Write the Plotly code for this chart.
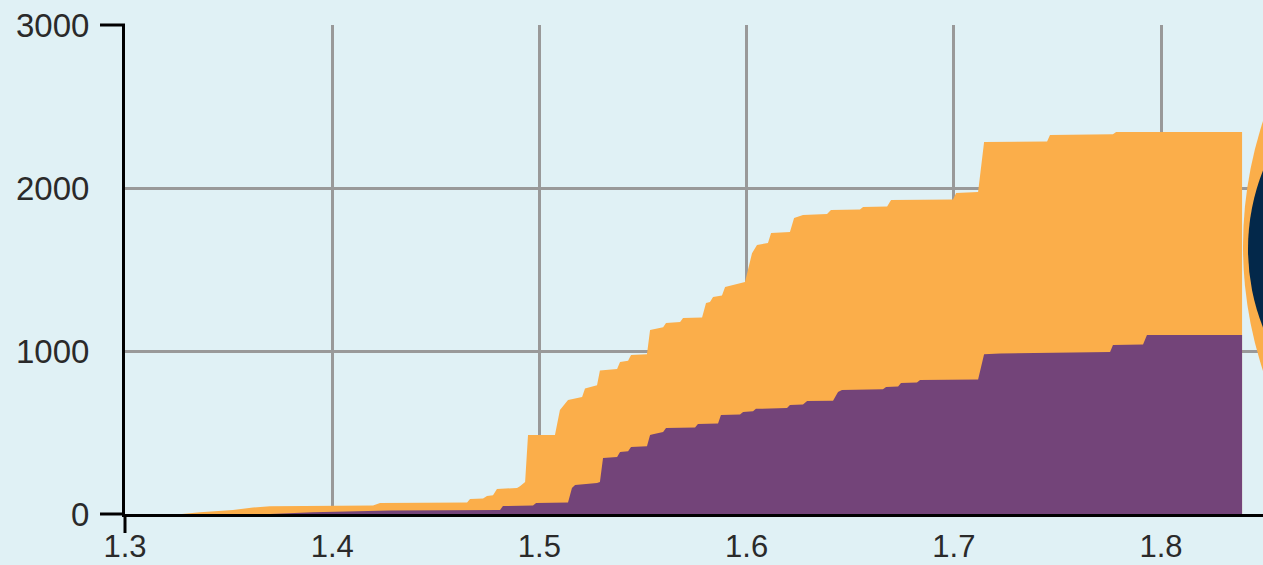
import plotly.graph_objects as go

# ---- data ----
total_x = [1.3275, 1.3362, 1.3521, 1.3618, 1.3700, 1.4197, 1.4231, 1.4651, 1.4665, 1.4728,
           1.4747, 1.4776, 1.4795, 1.4892, 1.4906, 1.4931, 1.4945, 1.5075, 1.5099, 1.5138,
           1.5206, 1.5220, 1.5278, 1.5292, 1.5375, 1.5389, 1.5428, 1.5442, 1.5519, 1.5534,
           1.5597, 1.5611, 1.5679, 1.5693, 1.5785, 1.5804, 1.5823, 1.5838, 1.5881, 1.5896,
           1.5992, 1.6007, 1.6026, 1.6050, 1.6103, 1.6118, 1.6209, 1.6229, 1.6272, 1.6388,
           1.6407, 1.6547, 1.6562, 1.6678, 1.6697, 1.6996, 1.7011, 1.7117, 1.7146, 1.7450,
           1.7464, 1.7768, 1.7783, 1.8391]
total_y = [0, 10, 25, 40, 48, 52, 67, 70, 92, 95,
           110, 115, 153, 160, 170, 196, 485, 485, 638, 699,
           718, 770, 790, 880, 890, 933, 940, 975, 980, 1129,
           1145, 1172, 1178, 1202, 1205, 1294, 1300, 1331, 1340, 1393,
           1423, 1500, 1600, 1650, 1663, 1724, 1730, 1816, 1834, 1840,
           1865, 1868, 1883, 1886, 1926, 1930, 1969, 1975, 2282, 2285,
           2325, 2330, 2344, 2344]

subset_x = [1.3275, 1.3700, 1.3907, 1.4279, 1.4810, 1.4824, 1.4969, 1.4984, 1.5138, 1.5157,
            1.5172, 1.5278, 1.5292, 1.5307, 1.5375, 1.5389, 1.5428, 1.5442, 1.5519, 1.5534,
            1.5548, 1.5597, 1.5611, 1.5751, 1.5765, 1.5862, 1.5876, 1.5968, 1.5983, 1.6031,
            1.6045, 1.6195, 1.6209, 1.6272, 1.6292, 1.6417, 1.6441, 1.6460, 1.6658, 1.6673,
            1.6731, 1.6745, 1.6822, 1.6837, 1.7117, 1.7146, 1.7223, 1.7754, 1.7768, 1.7913,
            1.7932, 1.8391]
subset_y = [0, 0, 10, 22, 25, 49, 52, 67, 70, 160,
            178, 190, 196, 343, 350, 380, 385, 411, 415, 485,
            490, 503, 528, 530, 552, 555, 607, 610, 626, 630,
            645, 650, 669, 672, 693, 695, 748, 761, 765, 779,
            782, 804, 806, 822, 825, 980, 985, 994, 1037, 1040,
            1098, 1098]

x_tick_vals = [1.3, 1.4, 1.5, 1.6, 1.7, 1.8]
x_tick_text = ["1.3", "1.4", "1.5", "1.6", "1.7", "1.8"]
y_tick_vals = [0, 1000, 2000, 3000]
y_tick_text = ["0", "1000", "2000", "3000"]

BG = "#E0F1F5"
ORANGE = "#FBAE4A"
PURPLE = "#734479"
NAVY = "#03284A"
GRID = "#999999"

fig = go.Figure()
fig.add_trace(go.Scatter(x=total_x, y=total_y, mode="none", fill="tozeroy",
                         fillcolor=ORANGE, name="Total", hoverinfo="x+y"))
fig.add_trace(go.Scatter(x=subset_x, y=subset_y, mode="none", fill="tozeroy",
                         fillcolor=PURPLE, name="Subset", hoverinfo="x+y"))

shapes = [
    # outer tick of the x axis at its start (y-axis line running below the baseline)
    dict(type="line", xref="paper", yref="paper", x0=0, x1=0,
         ysizemode="pixel", yanchor=0, y0=-19, y1=0,
         line=dict(color="black", width=3)),
    # outer ticks of the y axis at 0 and 3000
    dict(type="line", yref="paper", xref="paper", y0=0, y1=0,
         xsizemode="pixel", xanchor=0, x0=-25, x1=0,
         line=dict(color="black", width=3)),
    dict(type="line", yref="paper", xref="paper", y0=1, y1=1,
         xsizemode="pixel", xanchor=0, x0=-25, x1=0,
         line=dict(color="black", width=3)),
    # large decorative disc on the right edge
    dict(type="circle", xref="paper", yref="paper",
         xsizemode="pixel", xanchor=1, x0=-20, x1=780,
         ysizemode="pixel", yanchor=0, y0=-132, y1=668,
         fillcolor=ORANGE, line=dict(width=0)),
    dict(type="circle", xref="paper", yref="paper",
         xsizemode="pixel", xanchor=1, x0=-15, x1=411,
         ysizemode="pixel", yanchor=0, y0=52, y1=478,
         fillcolor=NAVY, line=dict(width=0)),
]

fig.update_layout(
    width=1263, height=565,
    margin=dict(l=125, r=0, t=25, b=51, autoexpand=False),
    paper_bgcolor=BG, plot_bgcolor=BG,
    showlegend=False,
    font=dict(family="Liberation Sans, Arial, sans-serif", size=33, color="#2a2a2a"),
    shapes=shapes,
    xaxis=dict(range=[1.3, 1.8492], tickvals=x_tick_vals, ticktext=x_tick_text,
               showgrid=True, gridcolor=GRID, gridwidth=3,
               showline=True, linecolor="black", linewidth=3,
               ticks="", zeroline=False, automargin=False,
               tickfont=dict(size=31),
               ticklabelstandoff=3),
    yaxis=dict(range=[0, 3000], tickvals=y_tick_vals, ticktext=y_tick_text,
               showgrid=True, gridcolor=GRID, gridwidth=3,
               showline=True, linecolor="black", linewidth=3,
               ticks="", zeroline=False, automargin=False,
               ticklabelstandoff=26),
)

fig.write_html(
    "out.html",
    config={"displayModeBar": False},
    post_script="document.body.style.margin='0';document.body.style.overflow='hidden';",
)
